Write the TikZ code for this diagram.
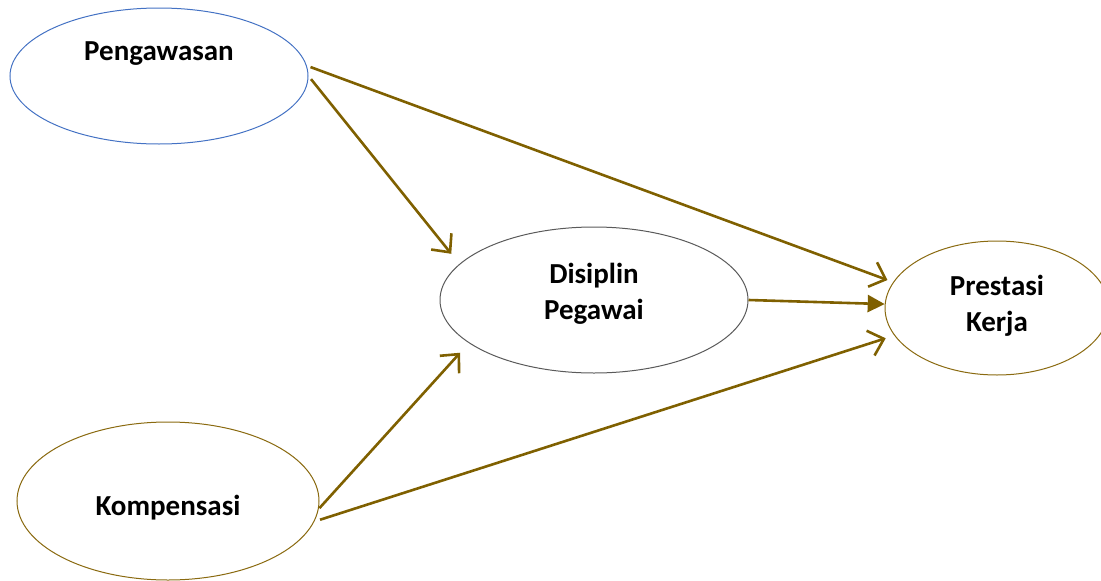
\documentclass[tikz,border=0pt]{standalone}
\usepackage{fontspec}
\setmainfont{Carlito}
\usetikzlibrary{shapes.geometric,arrows.meta}
\definecolor{arrowc}{HTML}{7F6000}
\definecolor{blueb}{HTML}{4472C4}
\definecolor{grayb}{HTML}{5A5A5A}
\definecolor{goldb}{HTML}{8A6A10}
\tikzset{
  oval/.style={ellipse, draw, line width=1pt, inner sep=0pt, fill=white},
  lbl/.style={font=\fontsize{29}{36}\selectfont\bfseries, align=center, inner sep=0pt},
  arr/.style={draw=arrowc, line width=2.6pt, -{Straight Barb[length=14pt,width=26pt,line width=2.6pt]}},
  arrf/.style={draw=arrowc, line width=2.6pt, -{Triangle[length=17pt,width=17pt]}}
}
\begin{document}
\begin{tikzpicture}[x=1pt,y=-1pt]
\useasboundingbox (0,0) rectangle (1101,581);
\clip (0,0) rectangle (1101,581);
\node[oval, draw=blueb, minimum width=298, minimum height=136] (peng) at (159,76) {};
\node[oval, draw=grayb, minimum width=308, minimum height=146] (dis) at (594,300) {};
\node[oval, draw=goldb, minimum width=224, minimum height=134] (prest) at (997,308) {};
\node[oval, draw=goldb, minimum width=302, minimum height=158] (komp) at (168,501) {};
\node[lbl] (tpeng) at (159,54) {Pengawasan};
\node[lbl] (tdis) at (594,294) {Disiplin\\Pegawai};
\node[lbl] (tprest) at (997,306) {Prestasi\\Kerja};
\node[lbl] (tkomp) at (168,508) {Kompensasi};
\draw[arr, shorten <=4pt, shorten >=6pt] (peng.4) -- (prest.166);
\draw[arr, shorten <=4pt, shorten >=13pt] (peng.0) -- (dis.165);
\draw[arr, shorten <=1pt, shorten >=13pt] (komp.-3) -- (dis.199);
\draw[arr, shorten <=6pt, shorten >=9pt] (komp.-8) -- (prest.195);
\draw[arrf, shorten <=0pt, shorten >=0pt] (dis.0) -- (prest.178);
\end{tikzpicture}
\end{document}
